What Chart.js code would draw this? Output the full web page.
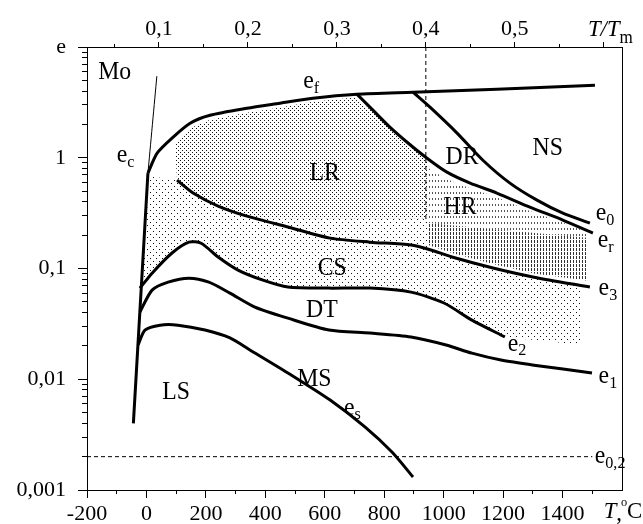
<!DOCTYPE html>
<html>
<head>
<meta charset="utf-8">
<script src="https://cdn.jsdelivr.net/npm/chart.js@4.4.1/dist/chart.umd.min.js"></script>
<style>
  html, body { margin: 0; padding: 0; background: #fff; }
  canvas { display: block; }
</style>
</head>
<body>
<canvas id="moChart" width="643" height="524"></canvas>
<script>
// Mo deformation map: strain e (log) vs temperature T, deg C

// axis ticks (major ones carry labels, minor ones are short marks)
var xTicks = [-200, 0, 200, 400, 600, 800, 1000, 1200, 1400];
var xLabels = ['-200', '0', '200', '400', '600', '800', '1000', '1200', '1400'];
var xMinorTicks = [-100, 100, 300, 500, 700, 900, 1100, 1300, 1500];
var topTicks = [0.1, 0.2, 0.3, 0.4, 0.5, 0.6];
var topLabels = ['0,1', '0,2', '0,3', '0,4', '0,5', ''];
var topMinorTicks = [0.05, 0.15, 0.25, 0.35, 0.45, 0.55];
var topMin = 0.0191, topMax = 0.6205; // T/Tm at -200 and 1600 deg C
var yMajor = [0.001, 0.01, 0.1, 1, 10];
var yLabels = ['0,001', '0,01', '0,1', '1', 'e'];
var yMinorSteps = [2, 3, 4, 5, 6, 7, 8, 9];

// boundary curves (T, e)
var efT = [5, 36, 89, 147, 214, 338, 449, 560, 708, 897, 1179, 1509];
var efE = [0.726, 1.10, 1.53, 2.05, 2.42, 2.80, 3.11, 3.45, 3.75, 3.91, 4.16, 4.52];

var e0T = [897, 954, 1045, 1132, 1223, 1314, 1401, 1492];
var e0E = [3.91, 2.86, 1.67, 0.95, 0.59, 0.414, 0.316, 0.257];

var erT = [708, 762, 819, 877, 944, 1011, 1089, 1179, 1290, 1401, 1502];
var erE = [3.75, 2.69, 1.89, 1.38, 0.99, 0.741, 0.59, 0.48, 0.358, 0.274, 0.209];

var e3T = [103, 157, 241, 338, 476, 618, 752, 890, 957, 1028, 1166, 1304, 1492];
var e3E = [0.628, 0.48, 0.366, 0.297, 0.237, 0.188, 0.173, 0.163, 0.147, 0.127, 0.101, 0.0835, 0.068];

var e2T = [-22, 19, 86, 143, 184, 241, 308, 392, 476, 614, 752, 890, 1001, 1095, 1206];
var e2E = [0.0665, 0.0908, 0.138, 0.173, 0.169, 0.127, 0.0968, 0.0785, 0.068, 0.0665, 0.0665, 0.0612, 0.0488, 0.0342, 0.0241];

var e1T = [-22, 19, 73, 143, 210, 281, 365, 476, 614, 752, 890, 1008, 1095, 1193, 1304, 1499];
var e1E = [0.0404, 0.0638, 0.0753, 0.0818, 0.0753, 0.06, 0.0449, 0.0356, 0.0278, 0.0261, 0.0241, 0.0204, 0.0172, 0.0149, 0.0134, 0.0114];

var esT = [-28, -5, 46, 106, 197, 281, 348, 483, 618, 735, 826, 897];
var esE = [0.0204, 0.0278, 0.0308, 0.0308, 0.0278, 0.0236, 0.0184, 0.0111, 0.00649, 0.00371, 0.0022, 0.00131];

var steepT = [-44, 5];
var steepE = [0.004, 0.726];
var ecT = [5, 35];
var ecE = [0.726, 5.45];

var e02T = [-200, 1500];
var e02E = [0.002, 0.002];
var tmLineT = [940, 940];
var tmLineE = [10, 0.262];

// shaded regions (closed outlines)
var lrT = [96, 147, 214, 338, 449, 560, 700, 762, 819, 877, 944, 944, 345, 241, 157, 103];
var lrE = [1.30, 1.85, 2.20, 2.55, 2.85, 3.20, 3.50, 2.60, 1.85, 1.36, 0.97, 0.285, 0.285, 0.366, 0.48, 0.628];

var csT = [12, 103, 157, 241, 345, 944, 944, 1028, 1166, 1304, 1460, 1460, 1206, 1095, 1001, 890, 752, 614, 476, 392, 308, 241, 184, 143, 86, 19, -17];
var csE = [0.682, 0.628, 0.48, 0.366, 0.285, 0.285, 0.150, 0.127, 0.101, 0.0835, 0.072, 0.0205, 0.0241, 0.0342, 0.0488, 0.0612, 0.0665, 0.0665, 0.068, 0.0785, 0.0968, 0.127, 0.169, 0.173, 0.138, 0.0908, 0.0665];

var hrUpT = [950, 1011, 1089, 1179, 1290, 1401, 1480, 1480, 950];
var hrUpE = [0.80, 0.64, 0.53, 0.44, 0.33, 0.26, 0.215, 0.19, 0.257];

var hrLoT = [944, 1480, 1480, 1304, 1166, 1028, 944];
var hrLoE = [0.257, 0.19, 0.078, 0.09, 0.11, 0.138, 0.165];

// text inside the plot (T, e)
var notes = [
  { t: 'Mo', x: -107, y: 5.92 },
  { t: 'e', s: 'c', x: -82, y: 1.055 },
  { t: 'e', s: 'f', x: 545, y: 4.9 },
  { t: 'LR', x: 600, y: 0.72 },
  { t: 'DR', x: 1062, y: 1.01 },
  { t: 'NS', x: 1350, y: 1.22 },
  { t: 'HR', x: 1055, y: 0.358 },
  { t: 'CS', x: 625, y: 0.101 },
  { t: 'DT', x: 590, y: 0.0422 },
  { t: 'e', s: '0', x: 1529, y: 0.316 },
  { t: 'e', s: 'r', x: 1536, y: 0.180 },
  { t: 'e', s: '3', x: 1539, y: 0.0665 },
  { t: 'e', s: '2', x: 1233, y: 0.0208 },
  { t: 'e', s: '1', x: 1539, y: 0.0105 },
  { t: 'MS', x: 565, y: 0.0100 },
  { t: 'LS', x: 100, y: 0.00766 },
  { t: 'e', s: 's', x: 682, y: 0.0055 },
  { t: 'e', s: '0,2', x: 1526, y: 0.00199 }
];

function pts(xs, ys) {
  return xs.map(function (x, i) { return { x: x, y: ys[i] }; });
}
function tickList(vals) {
  return vals.map(function (v) { return { value: v }; });
}

// dot / hatch fills like the printed stipple
function makePattern(w, h, cells, color) {
  var c = document.createElement('canvas');
  c.width = w; c.height = h;
  var g = c.getContext('2d');
  g.fillStyle = color;
  cells.forEach(function (r) { g.fillRect(r[0], r[1], r[2], r[3]); });
  return g.createPattern(c, 'repeat');
}
var densePat = makePattern(4, 4, [[0, 0, 1, 1], [2, 2, 1, 1]], '#111');
var sparsePat = makePattern(6, 6, [[0, 0, 1, 1], [3, 3, 1, 1]], '#111');
var hatchPat = makePattern(3, 4, [[0, 0, 1, 3]], '#333');
var lightHatchPat = makePattern(3, 6, [[0, 0, 1, 2]], '#555');

var FONT = 'Liberation Serif';

function curve(xs, ys, width) {
  return {
    data: pts(xs, ys), borderColor: '#000', borderWidth: width,
    pointRadius: 0, fill: false, tension: 0.25, order: 0
  };
}
function region(xs, ys, pat) {
  return {
    data: pts(xs, ys), borderWidth: 0, borderColor: 'rgba(0,0,0,0)',
    backgroundColor: pat, pointRadius: 0, fill: 'shape', tension: 0, order: 10
  };
}
function dashed(xs, ys) {
  var d = curve(xs, ys, 1);
  d.borderDash = [4, 3];
  d.tension = 0;
  return d;
}

var textPlugin = {
  id: 'mapText',
  afterDatasetsDraw: function (chart) {
    var ctx = chart.ctx;
    var sx = chart.scales.x, sy = chart.scales.y, st = chart.scales.xTop;
    function put(txt, x, y, size, italic, align) {
      ctx.save();
      ctx.translate(x, y);
      ctx.scale(0.95, 1);
      ctx.font = (italic ? 'italic ' : '') + size + 'px "' + FONT + '"';
      ctx.textAlign = align;
      ctx.textBaseline = 'middle';
      ctx.fillStyle = '#000';
      ctx.fillText(txt, 0, 0);
      var w = ctx.measureText(txt).width * 0.95;
      ctx.restore();
      return w;
    }
    notes.forEach(function (n) {
      var px = sx.getPixelForValue(n.x), py = sy.getPixelForValue(n.y);
      var w = put(n.t, px, py, 25, false, 'center');
      if (n.s) put(n.s, px + w / 2, py + 7, 17, false, 'left');
    });
    // axis names sitting at the last tick places
    var tx = st.getPixelForValue(0.6);
    var w1 = put('T/T', tx, 30, 24, true, 'center');
    put('m', tx + w1 / 2, 38, 18, false, 'left');
    var bx = sx.getPixelForValue(1600);
    var w2 = put('T', bx - 12, 512, 24, true, 'center');
    put(',', bx - 12 + w2 / 2, 514, 24, false, 'left');
    put('o', bx - 1, 503, 13, false, 'left');
    put('C', bx + 5, 512, 24, false, 'left');
  }
};

var tickFont = { family: FONT, size: 22 };

function minorAxis(pos, type, min, max, vals, len, size) {
  return {
    type: type, position: pos, min: min, max: max, weight: 0,
    afterBuildTicks: function (s) { s.ticks = tickList(vals); },
    ticks: { display: false, autoSkip: false },
    grid: { drawOnChartArea: false, tickLength: len, tickColor: '#000' },
    border: { display: false },
    afterFit: function (s) { s[size] = 0; }
  };
}

new Chart(document.getElementById('moChart').getContext('2d'), {
  type: 'line',
  data: {
    datasets: [
      region(lrT, lrE, densePat),
      region(csT, csE, sparsePat),
      region(hrUpT, hrUpE, lightHatchPat),
      region(hrLoT, hrLoE, hatchPat),
      curve(efT, efE, 3),
      curve(e0T, e0E, 3),
      curve(erT, erE, 3),
      curve(e3T, e3E, 3),
      curve(e2T, e2E, 3),
      curve(e1T, e1E, 3),
      curve(esT, esE, 3),
      curve(steepT, steepE, 3),
      curve(ecT, ecE, 1),
      dashed(e02T, e02E),
      dashed(tmLineT, tmLineE)
    ]
  },
  options: {
    responsive: false,
    animation: false,
    events: [],
    layout: { padding: 0 },
    plugins: { legend: { display: false }, tooltip: { enabled: false } },
    scales: {
      xMinor: minorAxis('bottom', 'linear', -200, 1600, xMinorTicks, 4, 'height'),
      x: {
        type: 'linear', position: 'bottom', min: -200, max: 1600, weight: 1,
        afterBuildTicks: function (s) { s.ticks = tickList(xTicks); },
        ticks: {
          autoSkip: false, maxRotation: 0, padding: 3, color: '#000', font: tickFont,
          callback: function (v, i) { return xLabels[i]; }
        },
        grid: { drawOnChartArea: false, tickLength: 8, tickColor: '#000' },
        border: { color: '#000', width: 1 },
        afterFit: function (s) { s.height = 34; }
      },
      xTopMinor: minorAxis('top', 'linear', topMin, topMax, topMinorTicks, 3, 'height'),
      xTop: {
        type: 'linear', position: 'top', min: topMin, max: topMax, weight: 1,
        afterBuildTicks: function (s) { s.ticks = tickList(topTicks); },
        ticks: {
          autoSkip: false, maxRotation: 0, padding: 0, color: '#000', font: tickFont,
          callback: function (v, i) { return topLabels[i]; }
        },
        grid: { drawOnChartArea: false, tickLength: 5, tickColor: '#000' },
        border: { color: '#000', width: 1 },
        afterFit: function (s) { s.height = 47; }
      },
      yMinor: minorAxis('left', 'logarithmic', 0.001, 10, (function () {
        var t = [];
        yMajor.slice(0, -1).forEach(function (m) {
          yMinorSteps.forEach(function (f) { t.push(m * f); });
        });
        return t;
      })(), 5, 'width'),
      y: {
        type: 'logarithmic', position: 'left', min: 0.001, max: 10, weight: 1,
        afterBuildTicks: function (s) { s.ticks = tickList(yMajor); },
        ticks: {
          autoSkip: false, padding: 12, color: '#000', font: tickFont,
          callback: function (v, i) { return yLabels[i]; }
        },
        grid: { drawOnChartArea: false, tickLength: 9, tickColor: '#000' },
        border: { color: '#000', width: 1 },
        afterFit: function (s) { s.width = 87; }
      },
      yRight: {
        type: 'linear', position: 'right', min: 0, max: 1,
        ticks: { display: false },
        grid: { drawOnChartArea: false, drawTicks: false },
        border: { color: '#000', width: 1 },
        afterFit: function (s) { s.width = 21; }
      }
    }
  },
  plugins: [textPlugin]
});
</script>
</body>
</html>
